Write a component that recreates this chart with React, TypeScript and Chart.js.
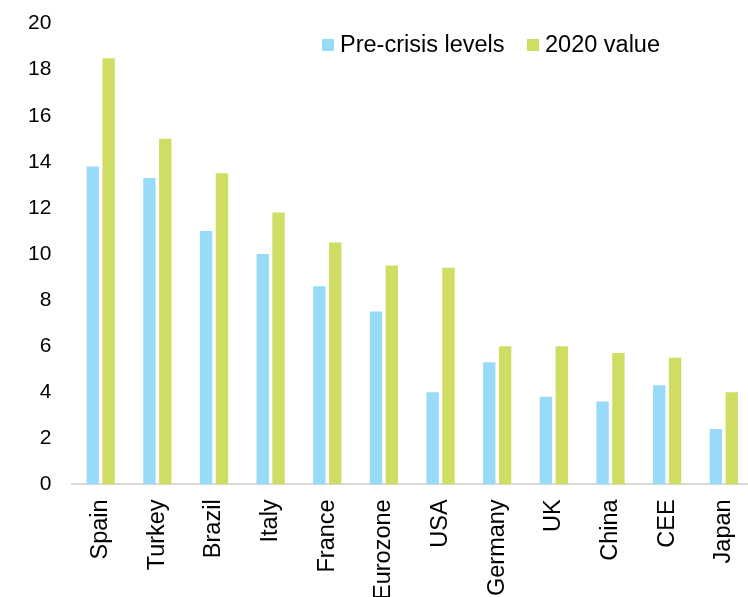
import React, { useEffect, useRef } from "react";
import { Chart, registerables } from "chart.js";

Chart.register(...registerables);

const categories = ["Spain", "Turkey", "Brazil", "Italy", "France", "Eurozone", "USA", "Germany", "UK", "China", "CEE", "Japan"];
const preCrisis = [13.8, 13.3, 11.0, 10.0, 8.6, 7.5, 4.0, 5.3, 3.8, 3.6, 4.3, 2.4];
const value2020 = [18.5, 15.0, 13.5, 11.8, 10.5, 9.5, 9.4, 6.0, 6.0, 5.7, 5.5, 4.0];
const seriesNames = ["Pre-crisis levels", "2020 value"];
const colors = ["#97DBF8", "#CFDD63"];

const FONT = "'Liberation Sans', Arial, sans-serif";
const SHIFT = 10;

const legendPlugin = {
  id: "insideLegend",
  afterDraw(chart: any) {
    const ctx = chart.ctx;
    ctx.save();
    ctx.font = `23.5px ${FONT}`;
    ctx.textBaseline = "middle";
    ctx.textAlign = "left";
    const items = [
      { x: 322, label: seriesNames[0], color: colors[0] },
      { x: 527, label: seriesNames[1], color: colors[1] },
    ];
    const y = 45 + SHIFT;
    for (const it of items) {
      ctx.fillStyle = it.color;
      ctx.fillRect(it.x, y - 6, 12, 12);
      ctx.fillStyle = "#000";
      ctx.fillText(it.label, it.x + 18, y + 1);
    }
    ctx.restore();
  },
};

export default function App() {
  const ref = useRef<HTMLCanvasElement>(null);
  useEffect(() => {
    if (!ref.current) return;
    const chart = new Chart(ref.current, {
      type: "bar",
      data: {
        labels: categories,
        datasets: [
          {
            label: seriesNames[0],
            data: preCrisis,
            backgroundColor: colors[0],
            categoryPercentage: 0.56,
            barPercentage: 0.78,
          },
          {
            label: seriesNames[1],
            data: value2020,
            backgroundColor: colors[1],
            categoryPercentage: 0.56,
            barPercentage: 0.78,
          },
        ],
      },
      options: {
        responsive: false,
        animation: false,
        devicePixelRatio: 1,
        layout: { padding: { top: 11, left: 7, right: 0, bottom: 0 } },
        plugins: {
          legend: { display: false },
          tooltip: { enabled: false },
        },
        scales: {
          x: {
            grid: { display: false, drawTicks: false },
            border: { display: true, color: "#D9D9D9", width: 2 },
            ticks: {
              color: "#000",
              font: { family: FONT, size: 23.5 },
              minRotation: 90,
              maxRotation: 90,
              padding: 15,
            },
          },
          y: {
            min: 0,
            max: 20,
            grid: { display: false, drawTicks: false },
            border: { display: false },
            ticks: {
              stepSize: 2,
              color: "#000",
              font: { family: FONT, size: 21 },
              padding: 21,
            },
          },
        },
      },
      plugins: [legendPlugin],
    });
    return () => chart.destroy();
  }, []);
  return (
    <div style={{ position: "fixed", left: 0, top: 0, width: 748, height: 597, overflow: "hidden", background: "#fff" }}>
      <canvas ref={ref} width={767} height={625} style={{ width: 767, height: 625, display: "block", marginTop: -SHIFT }} />
    </div>
  );
}
